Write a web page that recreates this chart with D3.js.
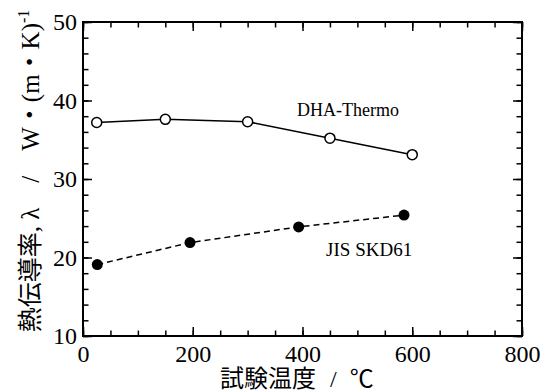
<!DOCTYPE html>
<html>
<head>
<meta charset="utf-8">
<script src="https://cdn.jsdelivr.net/npm/d3@7"></script>
<style>
  body { margin: 0; background: #fff; }
  svg { display: block; }
  .axis path { display: none; }
  .axis line { stroke: #000; stroke-width: 1.5px; }
</style>
</head>
<body>
<div id="canvas"></div>
<script>
// ---- DATA ----
var dhaTemp = [25, 150, 300, 450, 600];
var dhaLambda = [37.2, 37.6, 37.3, 35.2, 33.1];

var skdTemp = [26, 195, 393, 585];
var skdLambda = [19.1, 21.9, 23.9, 25.4];

var xTicks = [0, 200, 400, 600, 800];
var yTicks = [10, 20, 30, 40, 50];

var seriesNames = ['DHA-Thermo', 'JIS SKD61'];

var serif = "'Liberation Serif', 'Times New Roman', Times, 'DejaVu Serif', serif";
var serifCJK = "'Liberation Serif', 'Times New Roman', 'Noto Sans CJK JP', serif";

// ---- CONVENTIONS ----
var outerWidth = 550,
    outerHeight = 392;
var margin = {top: 22, right: 28, bottom: 56, left: 83};
var width = outerWidth - margin.left - margin.right,
    height = outerHeight - margin.top - margin.bottom;

var svg = d3.select('#canvas')
    .append('svg')
    .attr('width', outerWidth)
    .attr('height', outerHeight);

var plot = svg.append('g')
    .attr('transform', 'translate(' + margin.left + ',' + margin.top + ')');

// ---- SCALES ----
var scaleX = d3.scaleLinear().domain([0, 800]).range([0, width]);
var scaleY = d3.scaleLinear().domain([10, 50]).range([height, 0]);

// ---- AXES ----
function styleAxis(g) {
    g.attr('font-family', serif).attr('font-size', 24);
    g.selectAll('text').attr('fill', '#000');
}

// major ticks with labels
plot.append('g').attr('class', 'axis')
    .attr('transform', 'translate(0,' + height + ')')
    .call(d3.axisBottom(scaleX).tickValues(xTicks).tickSizeInner(-9).tickSizeOuter(0).tickPadding(9))
    .call(styleAxis);
plot.append('g').attr('class', 'axis')
    .call(d3.axisLeft(scaleY).tickValues(yTicks).tickSizeInner(-9).tickSizeOuter(0).tickPadding(6))
    .call(styleAxis);
// top / right majors, no labels
plot.append('g').attr('class', 'axis')
    .call(d3.axisTop(scaleX).tickValues(xTicks).tickSizeInner(-9).tickSizeOuter(0).tickFormat(''));
plot.append('g').attr('class', 'axis')
    .attr('transform', 'translate(' + width + ',0)')
    .call(d3.axisRight(scaleY).tickValues(yTicks).tickSizeInner(-9).tickSizeOuter(0).tickFormat(''));

// minor ticks
var xMinor = d3.range(0, 801, 50), yMinor = d3.range(10, 51, 2);
plot.append('g').attr('class', 'axis')
    .attr('transform', 'translate(0,' + height + ')')
    .call(d3.axisBottom(scaleX).tickValues(xMinor).tickSizeInner(-5.5).tickSizeOuter(0).tickFormat(''));
plot.append('g').attr('class', 'axis')
    .call(d3.axisTop(scaleX).tickValues(xMinor).tickSizeInner(-5.5).tickSizeOuter(0).tickFormat(''));
plot.append('g').attr('class', 'axis')
    .call(d3.axisLeft(scaleY).tickValues(yMinor).tickSizeInner(-5.5).tickSizeOuter(0).tickFormat(''));
plot.append('g').attr('class', 'axis')
    .attr('transform', 'translate(' + width + ',0)')
    .call(d3.axisRight(scaleY).tickValues(yMinor).tickSizeInner(-5.5).tickSizeOuter(0).tickFormat(''));

// frame
plot.append('rect')
    .attr('width', width).attr('height', height)
    .style('fill', 'none').style('stroke', '#000').style('stroke-width', '2px');

// ---- LINES ----
var dhaData = dhaTemp.map(function(t, i){ return {x: t, y: dhaLambda[i]}; });
var skdData = skdTemp.map(function(t, i){ return {x: t, y: skdLambda[i]}; });

var lineGenerator = d3.line()
    .x(function(d){ return scaleX(d.x); })
    .y(function(d){ return scaleY(d.y); });

plot.append('path').datum(skdData)
    .attr('d', lineGenerator)
    .style('fill', 'none').style('stroke', '#000').style('stroke-width', '1.5px')
    .style('stroke-dasharray', '6,4');

plot.append('path').datum(dhaData)
    .attr('d', lineGenerator)
    .style('fill', 'none').style('stroke', '#000').style('stroke-width', '1.5px');

plot.selectAll('.skd').data(skdData).enter().append('circle')
    .attr('class', 'skd')
    .attr('cx', function(d){ return scaleX(d.x); })
    .attr('cy', function(d){ return scaleY(d.y); })
    .attr('r', 5.5)
    .style('fill', '#000');

plot.selectAll('.dha').data(dhaData).enter().append('circle')
    .attr('class', 'dha')
    .attr('cx', function(d){ return scaleX(d.x); })
    .attr('cy', function(d){ return scaleY(d.y); })
    .attr('r', 5)
    .style('fill', '#fff').style('stroke', '#000').style('stroke-width', '1.5px');

// series labels
plot.append('text')
    .attr('x', scaleX(390)).attr('y', 94)
    .attr('font-family', serif).attr('font-size', 18)
    .text(seriesNames[0]);
plot.append('text')
    .attr('x', scaleX(443)).attr('y', 234)
    .attr('font-family', serif).attr('font-size', 19)
    .text(seriesNames[1]);

// ---- AXIS TITLES ----
var xt = svg.append('text')
    .attr('x', 220).attr('y', 387)
    .attr('font-family', serifCJK).attr('font-size', 24);
xt.append('tspan').text('試験温度');
xt.append('tspan').attr('dx', 14).text('/');
xt.append('tspan').attr('dx', 13).text('℃');

var yt = svg.append('text')
    .attr('transform', 'translate(39,171) rotate(-90)')
    .attr('text-anchor', 'middle')
    .attr('font-family', serifCJK).attr('font-size', 25);
yt.append('tspan').text('熱伝導率, λ\u3000/\u3000W・(m・K)');
yt.append('tspan').attr('dy', -10).attr('font-size', 16).text('-1');
</script>
</body>
</html>
